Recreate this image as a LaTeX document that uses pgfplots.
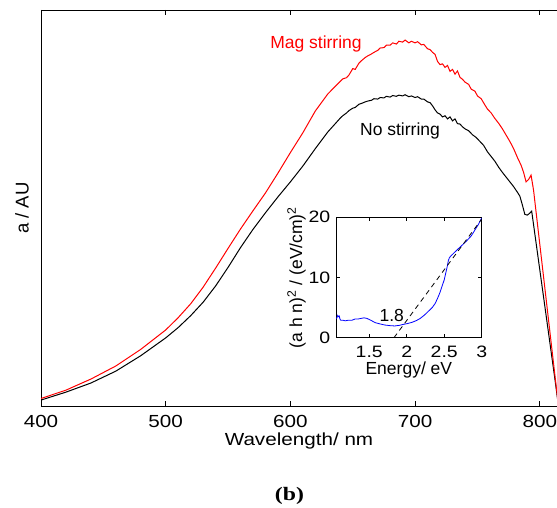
\documentclass[border=0pt]{standalone}
\usepackage{pgfplots}
\pgfplotsset{compat=1.18}
\usepackage{fontspec}
\setmainfont{Liberation Sans}
\newfontfamily\wide[FakeStretch=1.18]{Liberation Sans}
\newfontfamily\serifb[FakeStretch=1.25]{Liberation Serif}
\newcommand\ff{\fontsize{17.5pt}{21pt}\selectfont}
\newcommand\fw{\wide\fontsize{17.5pt}{21pt}\selectfont}
\newcommand\fwi{\wide\fontsize{16.5pt}{20pt}\selectfont}
\begin{document}
\begin{tikzpicture}
\begin{axis}[
  at={(0pt,0pt)}, anchor=south west,
  scale only axis, width=516pt, height=396pt,
  xmin=400, xmax=813.8, ymin=0, ymax=1,
  axis x line*=box, axis y line*=left,
  xtick={400,500,600,700,800}, xtick pos=both, ytick=\empty,
  tick align=inside, major tick length=5pt,
  axis line style={line width=0.9pt, black},
  every tick/.style={black, line width=0.6pt},
  /pgf/number format/assume math mode=true,
  xticklabel style={font=\fw, anchor=base, inner sep=0pt, yshift=-21.9pt},
  every axis x label/.style={at={(axis description cs:0.5,-0.101)}, anchor=base, inner sep=0pt, font=\fw},
  every axis y label/.style={at={(axis description cs:-0.0242,0.5)}, rotate=90, anchor=base, inner sep=0pt, font=\fontsize{18.5pt}{21pt}\selectfont},
  xlabel={Wavelength/ nm},
  ylabel={a / AU},
  clip=true,
]
\addplot[black, line width=1pt] table {
400 0.015
420 0.035
440 0.058
460 0.088
480 0.127
500 0.172
510 0.198
520 0.228
530 0.262
540 0.303
550 0.350
560 0.400
570 0.446
580 0.488
590 0.528
600 0.566
610 0.606
620 0.650
630 0.692
640 0.727
642 0.733
645 0.740
647 0.746
650 0.752
652 0.754
655 0.762
657 0.764
660 0.768
662 0.770
665 0.772
667 0.776
670 0.775
672 0.779
675 0.778
677 0.782
680 0.780
682 0.784
685 0.782
687 0.785
690 0.783
692 0.786
695 0.781
697 0.783
700 0.779
702 0.781
705 0.775
707 0.775
710 0.768
712 0.766
714 0.758
716 0.748
718 0.740
720 0.737
722 0.730
724 0.733
726 0.725
728 0.730
730 0.720
732 0.725
734 0.713
736 0.712
738 0.705
740 0.700
743 0.695
746 0.685
749 0.678
752 0.668
755 0.658
758 0.642
761 0.630
764 0.618
767 0.603
770 0.590
773 0.578
776 0.566
779 0.554
782 0.540
784 0.530
786 0.508
788 0.484
790 0.482
792 0.487
793.5 0.492
812.2 0.066
815 0.0
};
\addplot[red, line width=1pt] table {
400 0.019
420 0.040
440 0.068
460 0.101
480 0.143
500 0.192
510 0.223
520 0.258
530 0.300
540 0.348
550 0.398
560 0.447
570 0.493
580 0.538
590 0.588
600 0.640
610 0.690
620 0.745
630 0.788
640 0.820
642 0.826
645 0.829
647 0.836
650 0.852
652 0.850
655 0.866
657 0.872
660 0.880
662 0.884
665 0.889
667 0.893
670 0.898
672 0.904
675 0.905
677 0.911
680 0.911
682 0.917
685 0.914
687 0.921
690 0.919
692 0.924
695 0.917
697 0.921
700 0.917
702 0.920
705 0.912
707 0.913
710 0.902
712 0.900
714 0.893
716 0.888
718 0.870
720 0.862
722 0.864
724 0.855
726 0.860
728 0.845
730 0.850
732 0.838
734 0.846
736 0.830
738 0.825
740 0.818
743 0.812
745 0.800
748 0.795
750 0.783
753 0.776
756 0.760
758 0.750
761 0.740
764 0.726
767 0.714
770 0.700
773 0.684
776 0.668
779 0.650
782 0.628
785 0.608
787 0.590
789 0.566
791 0.572
793 0.583
795 0.545
813.5 0.040
815 0.0
};
\node[red, font=\ff] at (axis cs:620.5,0.914) {Mag stirring};
\node[black, font=\ff] at (axis cs:687.9,0.694) {No stirring};
\end{axis}

\begin{axis}[
  at={(295pt,68.3pt)}, anchor=south west,
  scale only axis, width=145.7pt, height=120.4pt,
  xmin=1.057, xmax=3, ymin=0, ymax=20,
  xtick={1.5,2,2.5,3}, ytick={0,10,20},
  xtick pos=both, ytick pos=both,
  tick align=inside, major tick length=3.5pt,
  axis line style={line width=0.9pt, black},
  every tick/.style={black, line width=0.6pt},
  axis background/.style={fill=white},
  /pgf/number format/assume math mode=true,
  xticklabel style={font=\fwi, anchor=base, inner sep=0pt, yshift=-19.8pt},
  yticklabel style={font=\fwi, anchor=east, inner sep=0pt, xshift=-5.5pt},
  every axis x label/.style={at={(axis description cs:0.5,-0.305)}, anchor=base, inner sep=0pt, font=\ff},
  every axis y label/.style={at={(axis description cs:-0.233,0.5)}, rotate=90, anchor=base, inner sep=0pt, font=\ff},
  xlabel={Energy/ eV},
  ylabel={(a h n)\textsuperscript{2} / (eV/cm)\textsuperscript{2}},
]
\addplot[blue, line width=0.8pt] table {
1.057 3.2
1.07 3.3
1.08 3.7
1.09 3.5
1.10 3.6
1.11 3.1
1.12 2.9
1.15 2.9
1.18 2.8
1.22 2.9
1.27 2.9
1.31 3.1
1.35 3.1
1.39 3.2
1.43 3.3
1.47 3.2
1.52 2.9
1.58 2.5
1.64 2.3
1.71 2.1
1.78 2.0
1.84 1.95
1.90 2.05
1.95 2.2
2.01 2.35
2.07 2.55
2.13 2.85
2.18 3.2
2.24 3.8
2.29 4.4
2.34 5.0
2.38 5.7
2.41 6.5
2.44 7.4
2.47 8.5
2.50 9.6
2.52 10.7
2.54 11.8
2.555 12.8
2.57 13.3
2.59 13.6
2.64 14.2
2.69 14.8
2.75 15.5
2.80 16.1
2.86 16.9
2.91 17.9
2.96 18.9
3.0 19.9
};
\addplot[black, line width=0.8pt, dash pattern=on 5pt off 4pt] table {
1.83 0.0
3.0 19.7
};
\node[font=\ff] at (axis cs:1.80,3.72) {1.8};
\end{axis}
\node[font=\serifb\bfseries\fontsize{19pt}{22pt}\selectfont, anchor=base, inner sep=0pt] at (248.5pt,-94.5pt) {(b)};
\pgfresetboundingbox
\path[use as bounding box] (-41pt,-102pt) rectangle (516pt,406pt);
\end{tikzpicture}
\end{document}
